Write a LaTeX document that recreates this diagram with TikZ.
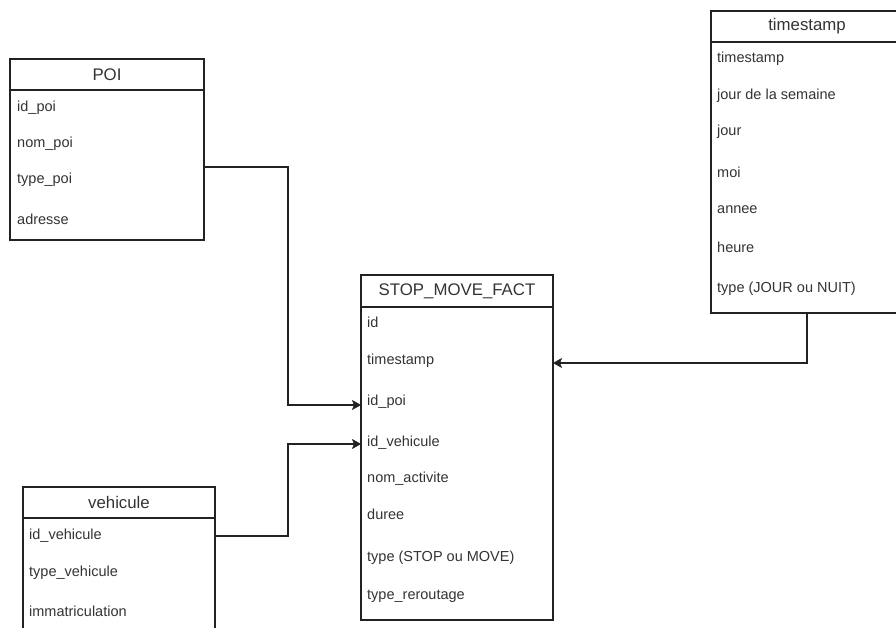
\documentclass[tikz,border=0pt]{standalone}
\usepackage{fontspec}
\setmainfont{Liberation Sans}
\usetikzlibrary{arrows.meta}
\definecolor{txt}{HTML}{333333}
\definecolor{ln}{HTML}{222222}
\begin{document}
\begin{tikzpicture}[x=1pt,y=-1pt,
  hbox/.style={draw=ln, line width=1.1pt, anchor=north west, inner sep=0, outer sep=0,
    font=\fontsize{16.8}{19}\selectfont, text=txt},
  bbox/.style={draw=ln, line width=1.1pt, anchor=north west, inner sep=0, outer sep=0},
  fld/.style={font=\fontsize{14.5}{17}\selectfont, text=txt, anchor=west, inner sep=0,
    text height=10.5pt, text depth=3pt},
  conn/.style={draw=ln, line width=1.1pt, -{Stealth[length=9pt,width=10pt,inset=2pt,line width=0.5pt]}}]
\useasboundingbox (0,0) rectangle (896,628);
\clip (0,0) rectangle (896,628);

% POI
\node[hbox, minimum width=194pt, minimum height=31pt] (poiH) at (10,59) {POI};
\node[bbox, minimum width=194pt, minimum height=150pt] (poiB) at (10,90) {};
\node[fld] (poiF1) at (17,108) {id\_poi};
\node[fld] (poiF2) at (17,144) {nom\_poi};
\node[fld] (poiF3) at (17,180) {type\_poi};
\node[fld] (poiF4) at (17,221) {adresse};

% timestamp
\node[hbox, minimum width=192pt, minimum height=31pt] (tsH) at (711,11) {timestamp};
\node[bbox, minimum width=192pt, minimum height=271pt] (tsB) at (711,42) {};
\node[fld] (tsF1) at (717,59) {timestamp};
\node[fld] (tsF2) at (717,96) {jour de la semaine};
\node[fld] (tsF3) at (717,132) {jour};
\node[fld] (tsF4) at (717,174) {moi};
\node[fld] (tsF5) at (717,210) {annee};
\node[fld] (tsF6) at (717,249) {heure};
\node[fld] (tsF7) at (717,289) {type (JOUR ou NUIT)};

% STOP_MOVE_FACT
\node[hbox, minimum width=192pt, minimum height=32pt] (smH) at (361,275) {STOP\_MOVE\_FACT};
\node[bbox, minimum width=192pt, minimum height=313pt] (smB) at (361,307) {};
\node[fld] (smF1) at (367,324) {id};
\node[fld] (smF2) at (367,361) {timestamp};
\node[fld] (smF3) at (367,402) {id\_poi};
\node[fld] (smF4) at (367,443) {id\_vehicule};
\node[fld] (smF5) at (367,479) {nom\_activite};
\node[fld] (smF6) at (367,516) {duree};
\node[fld] (smF7) at (367,558) {type (STOP ou MOVE)};
\node[fld] (smF8) at (367,596) {type\_reroutage};

% vehicule
\node[hbox, minimum width=192pt, minimum height=31pt] (veH) at (23,487) {vehicule};
\node[bbox, minimum width=192pt, minimum height=160pt] (veB) at (23,518) {};
\node[fld] (veF1) at (29,536) {id\_vehicule};
\node[fld] (veF2) at (29,573) {type\_vehicule};
\node[fld] (veF3) at (29,613) {immatriculation};

% connectors
\coordinate (bend) at (288,0);
\draw[conn] (poiB.east |- 0,167) -| (bend |- 0,405) -- (smB.west |- 0,405);
\draw[conn] (veB.east |- 0,536) -| (bend |- 0,444) -- (smB.west |- 0,444);
\draw[conn] (tsB.south -| 807,0) |- (smB.east |- 0,363);
\end{tikzpicture}
\end{document}
